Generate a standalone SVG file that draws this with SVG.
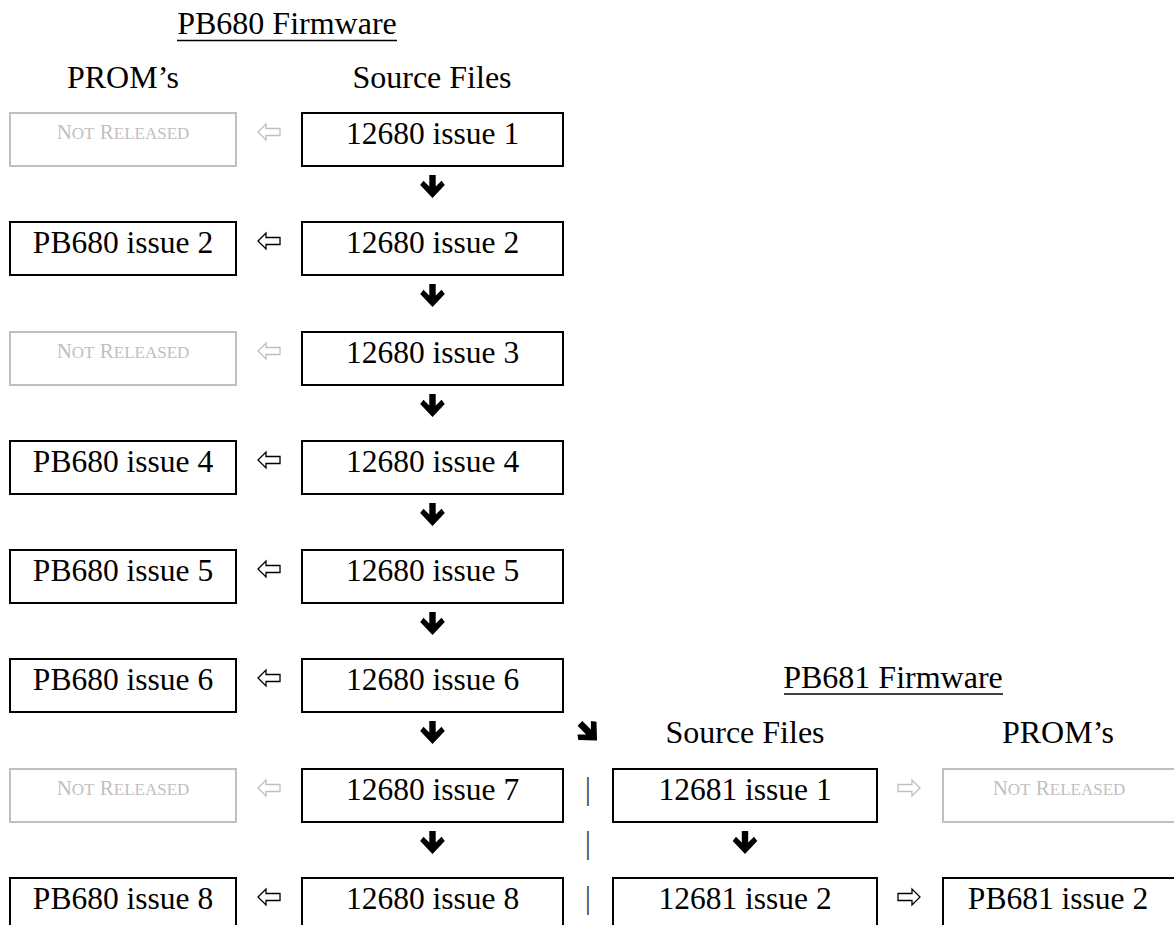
<svg xmlns="http://www.w3.org/2000/svg" width="1174" height="925" viewBox="0 0 1174 925">
<style>
text{font-family:"Liberation Serif","Times New Roman",serif;}
.h{font-size:32px;fill:#000;text-anchor:middle;}
.t{font-size:31.5px;fill:#000;text-anchor:middle;}
.nr{fill:#bfbfbf;text-anchor:middle;font-size:21px;}
.nr .s{font-size:17px;}
.box{fill:#fff;stroke:#000;stroke-width:2;}
.gbox{fill:#fff;stroke:#c0c0c0;stroke-width:2;}
.ul{stroke:#000;stroke-width:1.6;}
.oa{fill:#fff;stroke:#000;stroke-width:1.3;stroke-linejoin:miter;}
.oag{fill:#fff;stroke:#bfbfbf;stroke-width:1.3;stroke-linejoin:miter;}
.bar{font-size:31.5px;fill:#444;text-anchor:middle;}
</style>
<defs>
<path id="down" d="M-3.2,0 L3.2,0 L3.2,11.5 L9,5.7 L12.3,10 L0,23 L-12.3,10 L-9,5.7 L-3.2,11.5 Z" fill="#000"/>
<path id="la" d="M0,0 L8,-8 L8,-3.5 L22,-3.5 L22,3.5 L8,3.5 L8,8 Z"/>
<path id="ra" d="M0,0 L-8,-8 L-8,-3.5 L-22,-3.5 L-22,3.5 L-8,3.5 L-8,8 Z"/>
</defs>
<rect width="1174" height="925" fill="#fff"/>

<g id="headings">
<text class="h" x="287" y="34">PB680 Firmware</text>
<line class="ul" x1="177" y1="40.5" x2="397" y2="40.5"/>
<text class="h" x="123" y="88">PROM’s</text>
<text class="h" x="432" y="88">Source Files</text>
<text class="h" x="893" y="688">PB681 Firmware</text>
<line class="ul" x1="784" y1="694" x2="1003" y2="694"/>
<text class="h" x="745" y="743">Source Files</text>
<text class="h" x="1058" y="743">PROM’s</text>
</g>

<g id="src1"><rect class="box" x="302" y="113" width="261" height="53"/><text class="t" x="432.5" y="144">12680 issue 1</text></g>
<g id="src2"><rect class="box" x="302" y="222" width="261" height="53"/><text class="t" x="432.5" y="253">12680 issue 2</text></g>
<g id="src3"><rect class="box" x="302" y="332" width="261" height="53"/><text class="t" x="432.5" y="363">12680 issue 3</text></g>
<g id="src4"><rect class="box" x="302" y="441" width="261" height="53"/><text class="t" x="432.5" y="472">12680 issue 4</text></g>
<g id="src5"><rect class="box" x="302" y="550" width="261" height="53"/><text class="t" x="432.5" y="581">12680 issue 5</text></g>
<g id="src6"><rect class="box" x="302" y="659" width="261" height="53"/><text class="t" x="432.5" y="690">12680 issue 6</text></g>
<g id="src7"><rect class="box" x="302" y="769" width="261" height="53"/><text class="t" x="432.5" y="800">12680 issue 7</text></g>
<g id="src8"><rect class="box" x="302" y="878" width="261" height="53"/><text class="t" x="432.5" y="909">12680 issue 8</text></g>

<g id="prom1"><rect class="gbox" x="10" y="113" width="226" height="53"/><text class="nr" x="123" y="139">N<tspan class="s">OT</tspan> R<tspan class="s">ELEASED</tspan></text></g>
<g id="prom2"><rect class="box" x="10" y="222" width="226" height="53"/><text class="t" x="123" y="253">PB680 issue 2</text></g>
<g id="prom3"><rect class="gbox" x="10" y="332" width="226" height="53"/><text class="nr" x="123" y="358">N<tspan class="s">OT</tspan> R<tspan class="s">ELEASED</tspan></text></g>
<g id="prom4"><rect class="box" x="10" y="441" width="226" height="53"/><text class="t" x="123" y="472">PB680 issue 4</text></g>
<g id="prom5"><rect class="box" x="10" y="550" width="226" height="53"/><text class="t" x="123" y="581">PB680 issue 5</text></g>
<g id="prom6"><rect class="box" x="10" y="659" width="226" height="53"/><text class="t" x="123" y="690">PB680 issue 6</text></g>
<g id="prom7"><rect class="gbox" x="10" y="769" width="226" height="53"/><text class="nr" x="123" y="795">N<tspan class="s">OT</tspan> R<tspan class="s">ELEASED</tspan></text></g>
<g id="prom8"><rect class="box" x="10" y="878" width="226" height="53"/><text class="t" x="123" y="909">PB680 issue 8</text></g>

<g id="src681_1"><rect class="box" x="613" y="769" width="264" height="53"/><text class="t" x="745" y="800">12681 issue 1</text></g>
<g id="src681_2"><rect class="box" x="613" y="878" width="264" height="53"/><text class="t" x="745" y="909">12681 issue 2</text></g>
<g id="prom681_1"><rect class="gbox" x="943" y="769" width="240" height="53"/><text class="nr" x="1059" y="795">N<tspan class="s">OT</tspan> R<tspan class="s">ELEASED</tspan></text></g>
<g id="prom681_2"><rect class="box" x="943" y="878" width="240" height="53"/><text class="t" x="1058" y="909">PB681 issue 2</text></g>

<g id="connectors">
<use href="#down" x="432.5" y="175"/>
<use href="#down" x="432.5" y="284"/>
<use href="#down" x="432.5" y="394"/>
<use href="#down" x="432.5" y="503"/>
<use href="#down" x="432.5" y="612"/>
<use href="#down" x="432.5" y="721"/>
<use href="#down" x="432.5" y="831"/>
<use href="#down" x="745" y="831"/>
<use href="#down" transform="translate(588.5,732) rotate(-45) scale(1.05) translate(0,-11.5)"/>
<use href="#la" class="oag" x="258" y="132"/>
<use href="#la" class="oa" x="258" y="241"/>
<use href="#la" class="oag" x="258" y="351"/>
<use href="#la" class="oa" x="258" y="460"/>
<use href="#la" class="oa" x="258" y="569"/>
<use href="#la" class="oa" x="258" y="678"/>
<use href="#la" class="oag" x="258" y="788"/>
<use href="#la" class="oa" x="258" y="897"/>
<use href="#ra" class="oag" x="920" y="788"/>
<use href="#ra" class="oa" x="920" y="897"/>
<text class="bar" x="588" y="799">|</text>
<text class="bar" x="588" y="853">|</text>
<text class="bar" x="588" y="908">|</text>
</g>
</svg>
